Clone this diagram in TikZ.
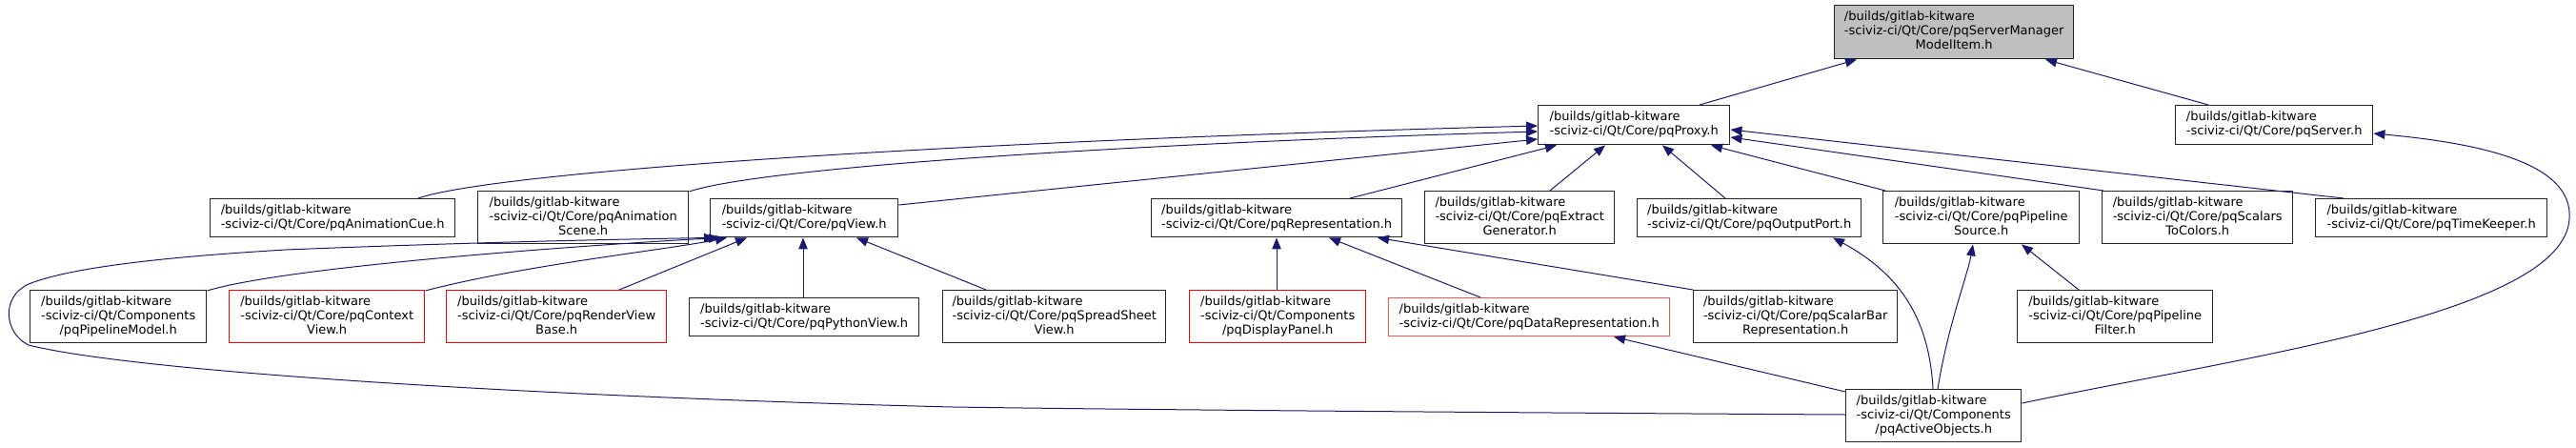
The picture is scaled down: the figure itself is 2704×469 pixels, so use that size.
\documentclass[tikz,border=0pt]{standalone}
\usepackage{fontspec}
\setmainfont{DejaVu Sans}
\usetikzlibrary{arrows.meta}
\definecolor{edgec}{RGB}{25,25,112}
\definecolor{greyfill}{RGB}{191,191,191}
\definecolor{lightred}{RGB}{255,80,80}
\newcommand{\ltwo}[2]{\begin{tabular}{@{}l@{}}#1\\#2\end{tabular}}
\newcommand{\lthree}[3]{\begin{tabular}{@{}l@{}}#1\\#2\\\multicolumn{1}{@{}c@{}}{#3}\end{tabular}}
\tikzset{
  nbox/.style={draw=black!85, line width=1.4pt, fill=white, inner sep=0pt, anchor=north west,
    font=\fontsize{13}{15}\selectfont},
  rbox/.style={nbox, draw=red},
  lrbox/.style={nbox, draw=lightred},
  gbox/.style={nbox, fill=greyfill},
  dep/.style={draw=edgec, line width=1pt, -{Triangle[length=12pt,width=9.5pt]}}
}
\begin{document}
\begin{tikzpicture}[x=1pt,y=-1pt]
\useasboundingbox (0,0) rectangle (2704,469);
% rank 0
\node[gbox, minimum width=251pt, minimum height=56pt] (smmi) at (1925,5)
  {\lthree{/builds/gitlab-kitware}{-sciviz-ci/Qt/Core/pqServerManager}{ModelItem.h}};
% rank 1
\node[nbox, minimum width=201pt, minimum height=41pt] (proxy) at (1614,110)
  {\ltwo{/builds/gitlab-kitware}{-sciviz-ci/Qt/Core/pqProxy.h}};
\node[nbox, minimum width=207pt, minimum height=41pt] (server) at (2283,110)
  {\ltwo{/builds/gitlab-kitware}{-sciviz-ci/Qt/Core/pqServer.h}};
% rank 2
\node[nbox, minimum width=257pt, minimum height=40pt] (animcue) at (220,208)
  {\ltwo{/builds/gitlab-kitware}{-sciviz-ci/Qt/Core/pqAnimationCue.h}};
\node[nbox, minimum width=221pt, minimum height=55pt] (animscene) at (501,200)
  {\lthree{/builds/gitlab-kitware}{-sciviz-ci/Qt/Core/pqAnimation}{Scene.h}};
\node[nbox, minimum width=197pt, minimum height=40pt] (view) at (745,208)
  {\ltwo{/builds/gitlab-kitware}{-sciviz-ci/Qt/Core/pqView.h}};
\node[nbox, minimum width=263pt, minimum height=40pt] (repr) at (1208,208)
  {\ltwo{/builds/gitlab-kitware}{-sciviz-ci/Qt/Core/pqRepresentation.h}};
\node[nbox, minimum width=199pt, minimum height=55pt] (extract) at (1495,200)
  {\lthree{/builds/gitlab-kitware}{-sciviz-ci/Qt/Core/pqExtract}{Generator.h}};
\node[nbox, minimum width=235pt, minimum height=40pt] (outport) at (1718,208)
  {\ltwo{/builds/gitlab-kitware}{-sciviz-ci/Qt/Core/pqOutputPort.h}};
\node[nbox, minimum width=206pt, minimum height=55pt] (psource) at (1976,200)
  {\lthree{/builds/gitlab-kitware}{-sciviz-ci/Qt/Core/pqPipeline}{Source.h}};
\node[nbox, minimum width=200pt, minimum height=55pt] (s2c) at (2206,200)
  {\lthree{/builds/gitlab-kitware}{-sciviz-ci/Qt/Core/pqScalars}{ToColors.h}};
\node[nbox, minimum width=243pt, minimum height=40pt] (timekeeper) at (2430,208)
  {\ltwo{/builds/gitlab-kitware}{-sciviz-ci/Qt/Core/pqTimeKeeper.h}};
% rank 3
\node[nbox, minimum width=185pt, minimum height=55pt] (pmodel) at (31,304)
  {\lthree{/builds/gitlab-kitware}{-sciviz-ci/Qt/Components}{/pqPipelineModel.h}};
\node[rbox, minimum width=205pt, minimum height=55pt] (ctxview) at (240,304)
  {\lthree{/builds/gitlab-kitware}{-sciviz-ci/Qt/Core/pqContext}{View.h}};
\node[rbox, minimum width=231pt, minimum height=55pt] (rvb) at (468,304)
  {\lthree{/builds/gitlab-kitware}{-sciviz-ci/Qt/Core/pqRenderView}{Base.h}};
\node[nbox, minimum width=241pt, minimum height=40pt] (pyview) at (723,312)
  {\ltwo{/builds/gitlab-kitware}{-sciviz-ci/Qt/Core/pqPythonView.h}};
\node[nbox, minimum width=234pt, minimum height=55pt] (ssview) at (989,304)
  {\lthree{/builds/gitlab-kitware}{-sciviz-ci/Qt/Core/pqSpreadSheet}{View.h}};
\node[rbox, minimum width=185pt, minimum height=55pt] (dpanel) at (1248,304)
  {\lthree{/builds/gitlab-kitware}{-sciviz-ci/Qt/Components}{/pqDisplayPanel.h}};
\node[lrbox, minimum width=295pt, minimum height=40pt] (datarepr) at (1457,312)
  {\ltwo{/builds/gitlab-kitware}{-sciviz-ci/Qt/Core/pqDataRepresentation.h}};
\node[nbox, minimum width=214pt, minimum height=55pt] (sbrepr) at (1777,304)
  {\lthree{/builds/gitlab-kitware}{-sciviz-ci/Qt/Core/pqScalarBar}{Representation.h}};
\node[nbox, minimum width=205pt, minimum height=55pt] (pfilter) at (2117,304)
  {\lthree{/builds/gitlab-kitware}{-sciviz-ci/Qt/Core/pqPipeline}{Filter.h}};
% rank 4
\node[nbox, minimum width=184pt, minimum height=55pt] (active) at (1937,408)
  {\lthree{/builds/gitlab-kitware}{-sciviz-ci/Qt/Components}{/pqActiveObjects.h}};

% edges
\draw[dep] ([xshift=170pt]proxy.north west) -- ([xshift=24pt]smmi.south west);
\draw[dep] ([xshift=35pt]server.north west) -- ([xshift=222pt]smmi.south west);
\draw[dep] ([xshift=219pt]animcue.north west) .. controls (520,180) and (1000,148) .. ([yshift=-22pt]proxy.north west);
\draw[dep] ([yshift=-1pt]animscene.north east) .. controls (800,175) and (1200,150) .. ([yshift=-28pt]proxy.north west);
\draw[dep] ([yshift=-7pt]view.north east) -- ([yshift=-36pt]proxy.north west);
\draw[dep] ([xshift=209pt]repr.north west) -- ([xshift=20pt]proxy.south west);
\draw[dep] ([xshift=132pt]extract.north west) -- ([xshift=71pt]proxy.south west);
\draw[dep] ([xshift=93pt]outport.north west) -- ([xshift=131pt]proxy.south west);
\draw[dep] ([xshift=3pt]psource.north west) -- ([xshift=182pt]proxy.south west);
\draw[dep] ([xshift=2pt]s2c.north west) -- ([yshift=-34pt]proxy.north east);
\draw[dep] ([xshift=30pt]timekeeper.north west) -- ([yshift=-26pt]proxy.north east);
% into pqView
\draw[dep] ([yshift=-1pt]pmodel.north east) .. controls (300,280) and (600,258) .. ([xshift=11pt]view.south west);
\draw[dep] ([yshift=-1pt]ctxview.north east) .. controls (550,278) and (700,262) .. ([xshift=18pt]view.south west);
\draw[dep] ([xshift=182pt]rvb.north west) -- ([xshift=39pt]view.south west);
\draw[dep] ([xshift=120pt]pyview.north west) -- ([xshift=98pt]view.south west);
\draw[dep] ([xshift=46pt]ssview.north west) -- ([xshift=154pt]view.south west);
\draw[dep] ([yshift=-27pt]active.north west) .. controls (1600,433) and (1200,430) .. (1000,427)
  .. controls (600,417) and (150,392) .. (30,362)
  .. controls (5,350) and (0,312) .. (30,298)
  .. controls (80,278) and (200,268) .. (300,262)
  .. controls (500,254) and (650,251) .. ([xshift=6pt]view.south west);
% into pqRepresentation
\draw[dep] ([xshift=92pt]dpanel.north west) -- ([xshift=132pt]repr.south west);
\draw[dep] ([xshift=97pt]datarepr.north west) -- ([xshift=187pt]repr.south west);
\draw[dep] (sbrepr.north west) -- ([xshift=238pt]repr.south west);
% from pqActiveObjects
\draw[dep] ([yshift=-3pt]active.north west) -- ([xshift=237pt]datarepr.south west);
\draw[dep] ([xshift=92pt]active.north west) .. controls (2025,330) and (1990,285) .. ([xshift=206pt]outport.south west);
\draw[dep] ([xshift=97pt]active.north west) .. controls (2045,340) and (2065,290) .. ([xshift=95pt]psource.south west);
\draw[dep] ([xshift=65pt]pfilter.north west) -- ([xshift=146pt]psource.south west);
\draw[dep] ([yshift=-15pt]active.north east) .. controls (2350,375) and (2690,330) .. (2697,230)
  .. controls (2702,170) and (2600,150) .. ([yshift=-30pt]server.north east);
\end{tikzpicture}
\end{document}
